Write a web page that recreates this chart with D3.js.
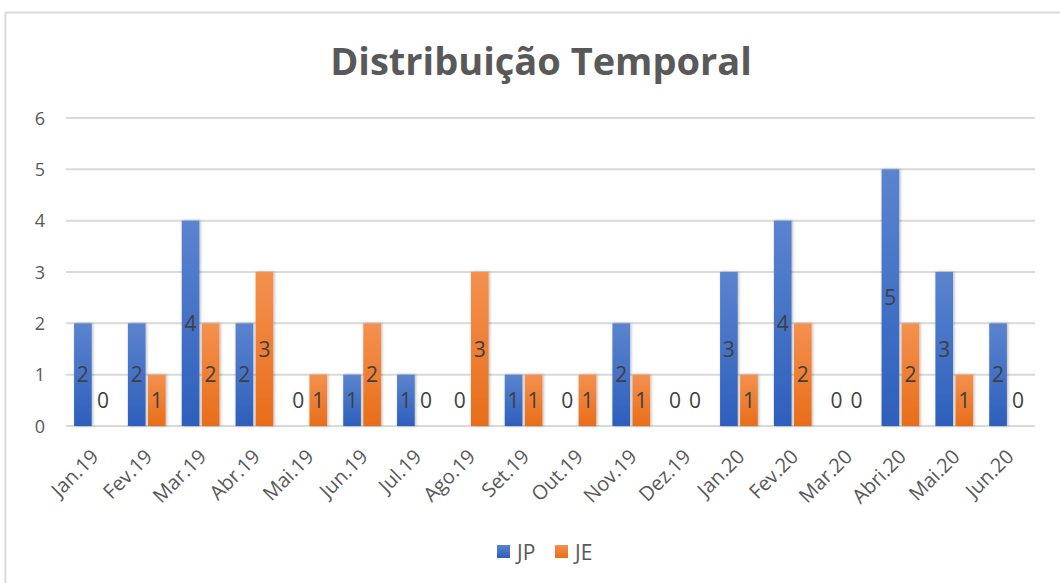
<!DOCTYPE html>
<html><head><meta charset="utf-8">
<script src="https://cdn.jsdelivr.net/npm/d3@7"></script>
<style>
body{margin:0;background:#fff;}
svg{display:block;font-family:"Open Sans","Noto Sans",sans-serif;}
</style></head>
<body>
<svg id="c" width="1060" height="583"></svg>
<script>
const categories = ["Jan.19","Fev.19","Mar.19","Abr.19","Mai.19","Jun.19","Jul.19","Ago.19","Set.19","Out.19","Nov.19","Dez.19","Jan.20","Fev.20","Mar.20","Abri.20","Mai.20","Jun.20"];
const seriesNames = ["JP","JE"];
const jpValues = [2,2,4,2,0,1,1,0,1,0,2,0,3,4,0,5,3,2];
const jeValues = [0,1,2,3,1,2,0,3,1,1,1,0,1,2,0,2,1,0];
const yTicks = [0,1,2,3,4,5,6];
const title = "Distribuição Temporal";

(function(){
const svg = d3.select("#c");
const defs = svg.append("defs");
const gradBlue = defs.append("linearGradient").attr("id","gBlue").attr("x1",0).attr("y1",0).attr("x2",0).attr("y2",1);
gradBlue.append("stop").attr("offset","0%").attr("stop-color","#5b84cf");
gradBlue.append("stop").attr("offset","100%").attr("stop-color","#2d5fbc");
const gradOr = defs.append("linearGradient").attr("id","gOr").attr("x1",0).attr("y1",0).attr("x2",0).attr("y2",1);
gradOr.append("stop").attr("offset","0%").attr("stop-color","#f4914f");
gradOr.append("stop").attr("offset","100%").attr("stop-color","#e86d19");
const flt = defs.append("filter").attr("id","sh").attr("x","-30%").attr("y","-10%").attr("width","160%").attr("height","120%");
flt.append("feDropShadow").attr("dx",1).attr("dy",0).attr("stdDeviation",1.5).attr("flood-color","#000").attr("flood-opacity",0.3);

svg.append("rect").attr("x",5.5).attr("y",12.5).attr("width",1080).attr("height",600)
  .attr("fill","#fff").attr("stroke","#d9d9d9").attr("stroke-width",2);

svg.append("text").attr("x",541).attr("y",75).attr("text-anchor","middle")
  .attr("font-size",38).attr("font-weight","bold").attr("fill","#595959").text(title);

const pl = 66, pr = 1035, pt = 118, pb = 426;
const x = d3.scaleBand().domain(categories).range([pl,pr]).paddingInner(0.3).paddingOuter(0.15);
const xs = d3.scaleBand().domain(seriesNames).range([0,x.bandwidth()]).paddingInner(0.12);
const y = d3.scaleLinear().domain([0,6]).range([pb,pt]);

svg.append("g").selectAll("line").data(yTicks).join("line")
  .attr("x1",pl).attr("x2",pr).attr("y1",d=>y(d)).attr("y2",d=>y(d))
  .attr("stroke","#d9d9d9").attr("stroke-width",2);

const yAxis = d3.axisLeft(y).tickValues(yTicks).tickFormat(d3.format("d")).tickSize(0).tickPadding(0);
const yg = svg.append("g").attr("transform",`translate(45,0)`).call(yAxis);
yg.select(".domain").remove();
yg.selectAll("text").attr("font-size",18).attr("fill","#595959").attr("font-family","Open Sans, sans-serif").attr("dy","0.35em");

const data = categories.map((c,i)=>({c, vals:[{s:"JP",v:jpValues[i]},{s:"JE",v:jeValues[i]}]}));
const groups = svg.append("g").selectAll("g").data(data).join("g")
  .attr("transform",d=>`translate(${x(d.c)},0)`);
groups.selectAll("rect").data(d=>d.vals.filter(e=>e.v>0)).join("rect")
  .attr("x",e=>xs(e.s)).attr("width",xs.bandwidth())
  .attr("y",e=>y(e.v)).attr("height",e=>y(0)-y(e.v))
  .attr("fill",e=>e.s==="JP"?"url(#gBlue)":"url(#gOr)")
  .attr("filter","url(#sh)");
groups.selectAll("text").data(d=>d.vals).join("text")
  .attr("x",e=>xs(e.s)+xs.bandwidth()/2)
  .attr("y",e=>e.v>0 ? (y(e.v)+y(0))/2 : y(0.5))
  .attr("dy","0.36em").attr("text-anchor","middle")
  .attr("font-size",21).attr("fill","#404040").text(e=>e.v);

const xAxis = d3.axisBottom(x).tickSize(0).tickPadding(0);
const xg = svg.append("g").attr("transform",`translate(0,${pb})`).call(xAxis);
xg.select(".domain").remove();
xg.selectAll("text").attr("font-size",20).attr("fill","#595959").attr("font-family","Open Sans, sans-serif")
  .attr("text-anchor","end").attr("dy","0.35em")
  .attr("transform","translate(2,27) rotate(-45)");

const legend = svg.append("g").attr("transform","translate(497,552)");
const li = legend.selectAll("g").data(seriesNames).join("g").attr("transform",(d,i)=>`translate(${i*58},0)`);
li.append("rect").attr("x",0).attr("y",-7).attr("width",13).attr("height",13)
  .attr("fill",d=>d==="JP"?"url(#gBlue)":"url(#gOr)");
li.append("text").attr("x",20).attr("y",0).attr("dy","0.36em").attr("font-size",21).attr("fill","#595959").text(d=>d);
})();
</script>
</body></html>
